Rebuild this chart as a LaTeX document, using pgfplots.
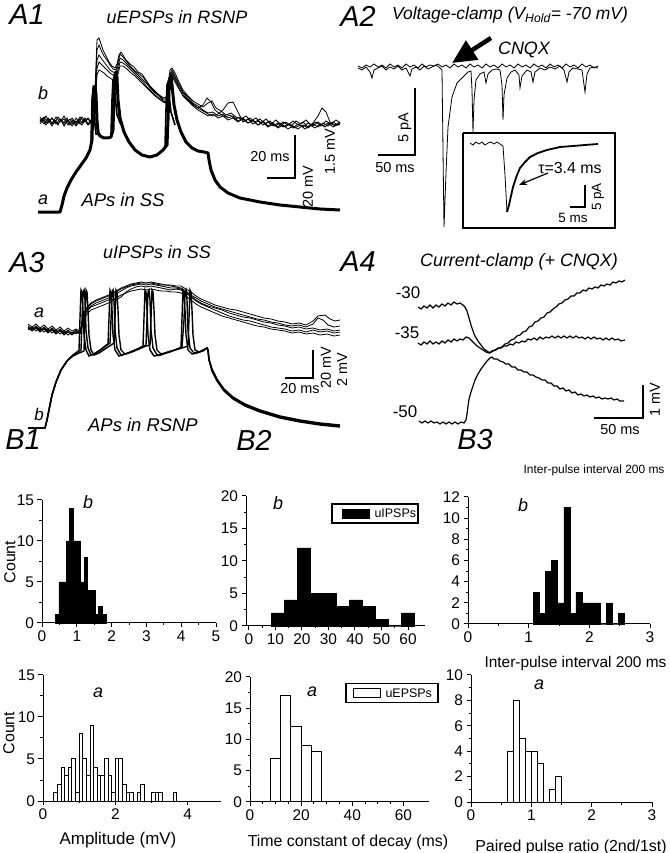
\documentclass[border=0pt]{standalone}
\usepackage{pgfplots}
\pgfplotsset{compat=1.18}
\usetikzlibrary{arrows.meta}
\usepackage{fontspec}
\setmainfont{Liberation Sans}
\newcommand\fs[1]{\fontsize{#1}{#1}\selectfont}
\pgfplotsset{
 hist/.style={
  scale only axis, anchor=south west,
  axis lines=left, axis line style={-, line width=1bp, black},
  tick align=outside, major tick length=4.5bp, minor tick length=2.5bp,
  tick style={black, line width=1bp},
  tick label style={font=\fs{15.5}},
  /pgf/number format/assume math mode=true,
  ymin=0, clip=false,
 },
 hb/.style={ybar interval, fill=black, draw=black, line width=0.6bp},
 hw/.style={ybar interval, fill=white, draw=black, line width=1bp},
 tr/.style={black, line width=0.8bp, no markers},
 thk/.style={black, line width=3bp, no markers, line join=round},
 spk/.style={black, line width=1.6bp, no markers},
}
\begin{document}
\begin{tikzpicture}
\useasboundingbox (0bp,0bp) rectangle (670bp,853bp);

% ---------------- B1 top
\begin{axis}[hist, at={(42bp,230bp)}, width=174bp, height=123bp,
  xmin=0, xmax=5, ymax=15, xtick={0,1,2,3,4,5}, ytick={0,5,10,15}, minor tick num=1]
\addplot[hb] coordinates {(0.38,1)(0.484,5)(0.588,5)(0.692,10)(0.796,14)(0.9,10)(1.004,10)(1.108,5)(1.212,8)(1.316,4)(1.42,4)(1.524,1)(1.628,2)(1.732,1)(1.836,0)};
\end{axis}
% ---------------- B1 bottom
\begin{axis}[hist, at={(43bp,52bp)}, width=178bp, height=126bp,
  xmin=0, xmax=4.92, ymax=15, xtick={0,2,4}, ytick={0,5,10,15}, minor tick num=1]
\addplot[hw] coordinates {(0.3,1)(0.4,2)(0.5,4)(0.6,3)(0.7,4)(0.8,5)(0.9,1)(1.0,8)(1.1,5)(1.2,3)(1.3,9)(1.4,4)(1.5,3)(1.6,3)(1.7,5)(1.8,3)(1.9,1)(2.0,5)(2.1,5)(2.2,2)(2.3,1)(2.4,1)(2.5,0)(2.6,1)(2.7,2)(2.8,0)(2.9,0)(3.0,1)(3.1,1)(3.2,1)(3.3,0)(3.4,0)(3.5,0)(3.6,1)(3.7,0)};
\end{axis}
% ---------------- B2 top
\begin{axis}[hist, at={(246bp,227bp)}, width=179bp, height=130bp,
  xmin=-1.1, xmax=66.4, ymax=20, xtick={0,10,...,60}, ytick={0,5,10,15,20}, minor x tick num=1, minor y tick num=1]
\addplot[hb] coordinates {(8.5,2)(13.4,4)(18.3,12)(23.2,5)(28.1,5)(33.0,3)(37.9,4)(42.8,3)(47.7,1)(52.6,0)(57.5,2)(62.4,0)};
\end{axis}
% ---------------- B2 bottom
\begin{axis}[hist, at={(250bp,51bp)}, width=179bp, height=125bp,
  xmin=0, xmax=70, ymax=20, xtick={0,20,40,60}, ytick={0,5,10,15,20}, minor x tick num=3, minor y tick num=1]
\addplot[hw] coordinates {(8,7)(12,17)(16,12)(20,9)(24,8)(28,0)};
\end{axis}
% ---------------- B3 top
\begin{axis}[hist, at={(468bp,229bp)}, width=182bp, height=127bp,
  xmin=0, xmax=3, ymax=12, xtick={0,1,2,3}, ytick={0,2,...,12}, minor tick num=1]
\addplot[hb] coordinates {(1.08,3)(1.18,1)(1.28,5)(1.38,6)(1.48,2)(1.58,11)(1.68,1)(1.78,3)(1.88,2)(1.98,2)(2.08,2)(2.18,0)(2.28,2)(2.38,0)(2.48,1)(2.58,0)};
\end{axis}
% ---------------- B3 bottom
\begin{axis}[hist, at={(471bp,51bp)}, width=181bp, height=127bp,
  xmin=0, xmax=3, ymax=10, xtick={0,1,2,3}, ytick={0,2,...,10}, minor tick num=1]
\addplot[hw] coordinates {(0.6,4)(0.7,8)(0.8,5)(0.9,4)(1.0,4)(1.1,3)(1.2,0)(1.3,1)(1.4,2)(1.5,0)};
\end{axis}

% ---------------- overlay (traces + text), pixel coordinates
\begin{axis}[at={(0bp,0bp)}, anchor=south west, scale only axis, width=670bp, height=853bp,
  xmin=0, xmax=670, ymin=0, ymax=853, y dir=reverse, hide axis, clip=false]
% ===== A1: b traces (uEPSPs in RSNP)
\addplot[tr] coordinates {(40,117)(43,121)(46,116)(49,122)(52,118)(55,123)(58,117)(61,121)(64,116)(67,122)(70,119)(73,124)(76,118)(79,122)(82,117)(85,121)(88,118)(91,122)(93,116)(95,90)(97,40)(99,38)(101,44)(103,50)(106,56)(109,62)(112,66)(115,68)(117,64)(119,55)(121,52)(123,55)(126,60)(130,64)(134,67)(138,72)(142,74)(146,80)(150,86)(154,90)(158,94)(162,97)(166,98)(168,85)(170,70)(172,68)(175,73)(179,82)(183,90)(188,96)(193,101)(198,104)(203,107)(208,103)(212,101)(216,108)(221,111)(226,115)(231,113)(236,117)(241,119)(246,116)(251,121)(256,118)(261,123)(266,119)(271,124)(276,120)(281,125)(286,122)(291,126)(296,121)(301,124)(306,120)(311,125)(316,122)(321,126)(326,121)(331,124)(336,120)(340,123)};
\addplot[tr] coordinates {(40,121)(43,118)(46,123)(49,119)(52,124)(55,120)(58,125)(61,119)(64,123)(67,118)(70,124)(73,120)(76,125)(79,119)(82,123)(85,118)(88,124)(91,120)(93,119)(95,95)(97,50)(99,45)(101,50)(104,56)(107,60)(110,65)(113,69)(116,70)(118,62)(120,54)(123,57)(127,62)(131,67)(135,71)(139,74)(143,77)(147,83)(151,88)(155,92)(159,95)(163,99)(166,99)(168,88)(170,74)(172,70)(175,76)(179,84)(183,92)(188,97)(193,103)(198,106)(203,110)(208,113)(213,112)(218,116)(223,114)(228,118)(233,116)(238,121)(243,118)(248,123)(253,120)(258,125)(263,121)(268,126)(273,123)(278,127)(283,122)(288,125)(293,121)(298,125)(303,122)(308,127)(313,123)(318,116)(322,108)(326,112)(330,122)(335,125)(340,122)};
\addplot[tr] coordinates {(40,124)(43,120)(46,125)(49,121)(52,126)(55,121)(58,124)(61,120)(64,126)(67,121)(70,125)(73,121)(76,126)(79,122)(82,125)(85,120)(88,125)(91,121)(93,122)(95,100)(97,60)(99,55)(101,58)(104,62)(107,66)(110,70)(113,72)(116,73)(118,66)(120,58)(123,60)(127,64)(131,68)(135,72)(139,76)(143,80)(147,84)(151,89)(155,93)(159,96)(163,100)(166,100)(168,90)(170,76)(172,72)(175,78)(179,86)(183,93)(188,99)(193,104)(198,108)(203,111)(208,114)(213,116)(218,114)(223,110)(228,103)(233,102)(238,112)(243,122)(248,119)(253,124)(258,121)(263,125)(268,122)(273,126)(278,123)(283,127)(288,124)(293,128)(298,124)(303,127)(308,123)(313,126)(318,122)(323,126)(328,123)(333,127)(338,124)(340,125)};
\addplot[tr] coordinates {(40,119)(44,124)(48,118)(52,123)(56,117)(60,122)(64,119)(68,125)(72,118)(76,123)(80,117)(84,122)(88,119)(92,124)(94,118)(95,105)(97,68)(99,62)(101,64)(104,67)(107,70)(110,73)(113,75)(116,76)(118,70)(120,62)(123,63)(127,66)(131,70)(135,74)(139,78)(143,82)(147,87)(151,91)(155,95)(159,98)(163,101)(166,102)(168,92)(170,78)(172,74)(175,80)(179,88)(183,95)(188,100)(193,105)(198,108)(203,105)(207,98)(211,102)(215,110)(220,114)(225,117)(230,115)(235,119)(240,117)(245,121)(250,118)(255,122)(260,119)(265,124)(270,121)(275,126)(280,123)(285,127)(290,124)(295,128)(300,125)(305,129)(310,125)(315,128)(320,124)(325,127)(330,123)(335,126)(340,124)};
\addplot[tr] coordinates {(40,122)(44,117)(48,123)(52,118)(56,124)(60,119)(64,125)(68,120)(72,126)(76,121)(80,124)(84,119)(88,125)(92,121)(94,121)(95,110)(97,75)(99,70)(101,71)(104,73)(107,76)(110,78)(113,80)(116,80)(118,74)(120,66)(123,66)(127,69)(131,73)(135,76)(139,80)(143,84)(147,88)(151,92)(155,96)(159,99)(163,102)(166,103)(168,94)(170,80)(172,76)(175,82)(179,89)(183,96)(188,101)(193,106)(198,110)(203,113)(208,116)(213,114)(218,118)(223,116)(228,120)(233,118)(238,122)(243,119)(248,123)(253,121)(258,125)(263,122)(268,127)(273,124)(278,128)(283,125)(288,129)(293,126)(298,129)(303,125)(308,128)(313,124)(318,127)(323,123)(328,126)(333,122)(338,125)(340,123)};
% ===== A1: a trace (APs in SS)
\addplot[thk] coordinates {(38,212)(60,212)(62,205)(64,196)(67,188)(71,180)(76,172)(81,165)(86,158)(90,150)(92,140)(93,100)(94,88)(95,86)(96,95)(97,120)(98,132)(100,136)(104,138)(108,138)(111,137)(113,130)(114,95)(115,75)(116,72)(117,78)(118,100)(120,118)(124,132)(129,142)(135,150)(142,155)(150,157)(157,155)(163,150)(167,145)(168,120)(169,90)(170,78)(171,76)(172,85)(174,105)(177,120)(181,132)(186,142)(192,148)(198,151)(204,152)(208,153)(209,160)(211,170)(215,180)(220,187)(228,193)(240,198)(260,202)(280,205)(300,207)(320,209)(340,210)};
\addplot[spk] coordinates {(91,145)(92,100)(93,90)(94,95)(95,125)(96,134)(100,135)};
\addplot[spk] coordinates {(111,134)(112,100)(113,80)(114,78)(115,95)(117,115)(121,125)};
\addplot[spk] coordinates {(165,147)(166,110)(167,85)(168,82)(169,95)(171,112)(175,125)};
% A1 scale bar
\addplot[black, line width=1.1bp] coordinates {(267,178)(295,178)(295,135)};

% ===== A2 traces
\addplot[tr] coordinates {(358,66)(362,68)(366,65)(370,67)(374,64)(378,67)(382,65)(386,68)(390,64)(394,67)(398,65)(402,68)(406,64)(410,67)(414,65)(418,68)(422,64)(426,67)(430,65)(434,66)(438,64)(442,67)(446,65)(450,68)(454,64)(458,67)(462,65)(466,68)(470,64)(474,67)(478,65)(482,68)(486,64)(490,67)(494,65)(498,68)(502,64)(506,67)(510,65)(514,68)(518,64)(522,67)(526,65)(530,68)(534,64)(538,67)(542,65)(546,68)(550,64)(554,67)(558,65)(562,68)(566,64)(570,67)(574,65)(578,68)(582,64)(586,67)(590,65)(594,68)(598,66)};
\addplot[tr] coordinates {(358,68)(362,70)(366,67)(370,72)(372,78)(374,70)(378,68)(382,66)(386,70)(390,67)(394,69)(398,66)(402,70)(406,68)(410,76)(412,69)(416,67)(420,70)(424,66)(428,69)(432,67)(436,65)(440,68)(442,70)(443,150)(444,227)(445,200)(446,173)(448,127)(452,97)(457,83)(463,77)(468,72)(471,71)(472,90)(473,132)(474,100)(476,80)(480,74)(484,72)(486,83)(488,74)(492,70)(496,69)(500,70)(502,85)(503,120)(504,95)(507,78)(511,72)(515,70)(519,75)(520,88)(522,76)(527,70)(531,72)(533,82)(535,72)(540,68)(545,70)(550,67)(555,69)(560,66)(564,70)(567,82)(569,72)(573,68)(578,69)(582,70)(585,92)(587,74)(590,68)(594,67)(598,68)};
% A2 scale bar
\addplot[black, line width=1.1bp] coordinates {(378,155)(415,155)(415,88)};
% inset box
\addplot[black, line width=1.1bp] coordinates {(463,133)(615,133)(615,228)(463,228)(463,133)};
% inset trace
\addplot[tr] coordinates {(470,143)(473,145)(476,142)(479,144)(482,142)(485,145)(488,143)(491,142)(494,144)(497,142)(500,144)(503,146)(505,175)(507,212)};
\addplot[black, line width=1.8bp, no markers] coordinates {(507,212)(509,205)(513,187)(517,175)(520,168)(525,162)(530,157)(538,153)(547,150)(560,147)(573,146)(585,145)(598,144)};
\addplot[black, line width=1.1bp] coordinates {(570,207)(585,207)(585,185)};

% ===== A3 a traces (uIPSPs in SS)
\addplot[tr] coordinates {(28,326)(32,329)(36,326)(40,330)(44,327)(48,331)(52,328)(56,332)(60,329)(64,333)(68,330)(72,334)(76,331)(80,333)(82,326)(84,316)(87,310)(91,306)(96,303)(101,301)(106,299)(111,297)(116,294)(121,291)(126,288)(131,286)(136,285)(141,284)(146,285)(151,284)(156,285)(161,286)(166,287)(171,288)(176,288)(181,289)(186,292)(191,296)(196,300)(201,303)(208,306)(215,308)(222,310)(229,313)(236,315)(243,317)(250,318)(257,320)(264,322)(271,323)(278,325)(285,326)(292,328)(299,327)(306,329)(313,328)(320,330)(327,329)(334,331)(340,330)};
\addplot[tr] coordinates {(28,330)(32,327)(36,331)(40,328)(44,332)(48,329)(52,333)(56,330)(60,334)(64,331)(68,335)(72,332)(76,334)(80,331)(82,322)(84,313)(87,308)(91,304)(96,301)(101,299)(106,297)(111,295)(116,292)(121,289)(126,287)(131,285)(136,284)(141,283)(146,283)(151,283)(156,284)(161,285)(166,285)(171,286)(176,287)(181,288)(186,291)(191,295)(196,298)(201,301)(208,304)(215,307)(222,309)(229,311)(236,313)(243,315)(250,317)(257,319)(264,320)(271,322)(278,323)(285,325)(292,326)(299,325)(306,327)(313,324)(318,318)(323,320)(328,325)(334,327)(340,326)};
\addplot[tr] coordinates {(28,328)(32,331)(36,328)(40,332)(44,329)(48,333)(52,330)(56,334)(60,331)(64,335)(68,332)(72,335)(76,332)(80,334)(82,328)(84,320)(87,314)(91,310)(96,308)(101,306)(106,304)(111,302)(116,298)(121,295)(126,293)(131,291)(136,290)(141,289)(146,290)(151,289)(156,290)(161,291)(166,291)(171,292)(176,292)(181,293)(186,296)(191,300)(196,304)(201,307)(208,310)(215,313)(222,316)(229,318)(236,320)(243,322)(250,324)(257,326)(264,327)(271,329)(278,330)(285,331)(292,333)(299,332)(306,334)(313,333)(320,335)(327,334)(334,336)(340,335)};
\addplot[tr] coordinates {(28,324)(32,327)(36,324)(40,328)(44,325)(48,329)(52,326)(56,330)(60,327)(64,331)(68,328)(72,331)(76,329)(80,331)(82,324)(84,313)(87,307)(91,303)(96,300)(101,298)(106,296)(111,294)(116,291)(121,288)(126,286)(131,284)(136,283)(141,282)(146,283)(151,282)(156,283)(161,284)(166,285)(171,285)(176,286)(181,286)(186,289)(191,292)(196,296)(201,299)(208,302)(215,305)(222,307)(229,309)(236,310)(243,312)(250,314)(257,316)(264,318)(271,319)(278,321)(285,322)(292,324)(299,323)(306,325)(313,321)(318,316)(325,315)(330,319)(335,321)(340,320)};
\addplot[tr] coordinates {(28,327)(32,330)(36,327)(40,331)(44,328)(48,332)(52,329)(56,333)(60,330)(64,334)(68,331)(72,333)(76,330)(80,333)(82,325)(84,317)(87,311)(91,307)(96,305)(101,303)(106,301)(111,299)(116,300)(121,297)(126,292)(131,289)(136,287)(141,286)(146,287)(151,286)(156,287)(161,288)(166,289)(171,290)(176,289)(181,290)(186,293)(191,297)(196,301)(201,304)(208,307)(215,310)(222,313)(229,316)(236,318)(243,320)(250,321)(257,323)(264,325)(271,327)(278,328)(285,329)(292,331)(299,330)(306,332)(313,330)(320,332)(327,331)(334,333)(340,332)};
% ===== A3 b traces (APs in RSNP)
\addplot[black, line width=1.4bp, no markers] coordinates {(28,428)(45,428)(47,420)(49,410)(52,395)(56,382)(61,370)(67,361)(73,355)(78,352)(81,350)(82,320)(83,292)(84,290)(85,300)(86,330)(88,348)(91,355)(96,353)(102,349)(107,345)(110,343)(111,320)(112,292)(113,290)(114,300)(115,330)(117,348)(121,355)(128,353)(135,350)(142,347)(146,345)(147,320)(148,292)(149,290)(150,300)(151,330)(153,348)(157,355)(163,354)(170,352)(177,349)(182,347)(184,320)(185,292)(186,290)(187,300)(188,330)(190,348)(194,353)(199,352)(203,350)(207,348)(208,350)(209,360)(212,370)(217,380)(224,390)(233,398)(245,405)(260,411)(280,417)(300,421)(320,424)(340,426)};
\addplot[black, line width=1.4bp, no markers] coordinates {(28,428)(45,428)(47,420)(49,410)(52,395)(56,382)(61,370)(67,361)(73,355)(77,352)(79,350)(80,318)(81,290)(82,292)(83,310)(84,335)(86,350)(89,356)(94,354)(100,350)(105,346)(108,344)(109,318)(110,290)(111,292)(112,310)(113,335)(115,350)(119,356)(126,354)(133,351)(140,348)(143,346)(144,318)(145,290)(146,292)(147,310)(148,335)(150,350)(154,356)(161,355)(168,352)(175,350)(181,348)(182,318)(183,290)(184,292)(185,310)(186,335)(188,350)(192,354)(197,353)(202,351)(207,348)(208,350)(209,360)(212,371)(217,381)(224,391)(233,399)(245,406)(260,412)(280,418)(300,422)(320,425)(340,427)};
\addplot[black, line width=1.4bp, no markers] coordinates {(28,428)(45,428)(47,420)(49,410)(52,395)(56,382)(61,370)(67,361)(73,356)(79,353)(84,351)(85,318)(86,290)(87,292)(88,310)(89,335)(91,350)(94,355)(99,353)(105,349)(111,345)(114,343)(115,318)(116,290)(117,292)(118,310)(119,335)(121,350)(125,354)(132,352)(139,349)(146,346)(150,345)(151,318)(152,290)(153,292)(154,310)(155,335)(157,350)(161,354)(168,352)(175,350)(182,348)(188,346)(189,318)(190,290)(191,292)(192,310)(193,335)(195,350)(199,352)(203,351)(207,348)(208,350)(209,359)(212,369)(217,379)(224,389)(233,397)(245,404)(260,410)(280,416)(300,420)(320,423)(340,425)};
% A3 scale bar
\addplot[black, line width=1.1bp] coordinates {(285,378)(313,378)(313,350)};

% ===== A4 traces
\addplot[tr, line width=1.2bp] coordinates {(418,307)(421,309)(424,306)(427,308)(430,305)(433,308)(436,305)(439,307)(442,304)(445,306)(448,303)(451,305)(454,302)(457,304)(460,303)(463,305)(465,307)(467,311)(469,318)(471,325)(473,331)(475,336)(478,341)(481,345)(484,349)(487,351)(490,353)(493,351)(496,350)(499,348)(502,347)(505,344)(508,343)(511,340)(514,339)(517,336)(520,335)(523,332)(526,331)(529,327)(532,326)(535,322)(538,321)(541,318)(544,317)(547,313)(550,312)(553,309)(556,307)(559,304)(562,303)(565,300)(568,299)(571,296)(574,296)(577,293)(580,293)(583,290)(586,291)(589,288)(592,289)(595,287)(598,288)(601,285)(604,286)(607,284)(610,285)(613,282)(616,283)(619,281)(622,282)(625,280)};
\addplot[tr, line width=1.2bp] coordinates {(418,343)(421,345)(424,342)(427,344)(430,341)(433,344)(436,342)(439,344)(442,341)(445,343)(448,340)(451,342)(454,339)(457,341)(460,339)(463,340)(466,337)(469,338)(471,340)(474,343)(477,346)(480,348)(483,350)(486,352)(489,353)(492,351)(495,350)(498,348)(501,348)(504,346)(507,346)(510,344)(513,345)(516,342)(519,343)(522,341)(525,342)(528,339)(531,340)(534,338)(537,340)(540,337)(543,339)(546,337)(549,338)(552,336)(555,338)(558,336)(561,338)(564,336)(567,338)(570,336)(573,338)(576,336)(579,338)(582,337)(585,339)(588,337)(591,339)(594,337)(597,339)(600,338)(603,340)(606,338)(609,340)(612,338)(615,340)(618,339)(621,341)(625,340)};
\addplot[tr, line width=1.2bp] coordinates {(419,421)(422,423)(425,421)(428,423)(431,421)(434,423)(437,422)(440,424)(443,422)(446,424)(449,422)(452,424)(455,422)(458,424)(461,422)(464,423)(466,420)(467,414)(468,406)(469,399)(471,392)(473,386)(475,380)(478,374)(481,369)(484,365)(487,361)(490,358)(492,357)(494,359)(497,359)(500,361)(503,362)(506,364)(509,364)(512,367)(515,367)(518,370)(521,370)(524,372)(527,372)(530,375)(533,375)(536,377)(539,378)(542,380)(545,380)(548,383)(551,383)(554,386)(557,386)(560,389)(563,388)(566,391)(569,390)(572,393)(575,392)(578,395)(581,394)(584,396)(587,395)(590,397)(593,396)(596,398)(599,397)(602,399)(605,398)(608,399)(611,398)(614,400)(617,399)(620,401)(624,401)};
% A4 scale bar
\addplot[black, line width=1.1bp] coordinates {(594,418)(643,418)(643,385)};

% ===== arrows
\draw[black, line width=4.5bp, -{Triangle[length=24bp, width=22bp]}] (axis cs:491,38) -- (axis cs:452,63);
\draw[black, line width=1.2bp, -{Stealth[length=8bp, width=6bp]}] (axis cs:548,173) -- (axis cs:519,185);

% ===== legends (B2)
\draw[black, line width=1.4bp] (axis cs:332,504) rectangle (axis cs:418,523);
\fill[black] (axis cs:342,508.5) rectangle (axis cs:370,518.5);
\node[font=\fs{12.5}, anchor=west] at (axis cs:371,513.5) {uIPSPs};
\draw[black, line width=1.4bp] (axis cs:346,683.5) rectangle (axis cs:438,702.5);
\draw[black, line width=1bp] (axis cs:353,688.5) rectangle (axis cs:380,697.5);
\node[font=\fs{12.5}, anchor=west] at (axis cs:382,693) {uEPSPs};

% ===== text
\node[font=\fs{29}\itshape] at (axis cs:27,15) {A1};
\node[font=\fs{29}\itshape] at (axis cs:358,16) {A2};
\node[font=\fs{29}\itshape] at (axis cs:27,263) {A3};
\node[font=\fs{29}\itshape] at (axis cs:358,262) {A4};
\node[font=\fs{29}\itshape] at (axis cs:23,440) {B1};
\node[font=\fs{29}\itshape] at (axis cs:254,440) {B2};
\node[font=\fs{29}\itshape] at (axis cs:475,440) {B3};

\node[font=\fs{18}\itshape] at (axis cs:177,17) {uEPSPs in RSNP};
\node[font=\fs{17.5}\itshape] at (axis cs:510,15) {Voltage-clamp (V\textsubscript{Hold}= -70 mV)};
\node[font=\fs{18}\itshape] at (axis cs:157,252) {uIPSPs in SS};
\node[font=\fs{18}\itshape] at (axis cs:519,262) {Current-clamp (+ CNQX)};

\node[font=\fs{18}\itshape] at (axis cs:43,93) {b};
\node[font=\fs{18}\itshape] at (axis cs:43,200) {a};
\node[font=\fs{18.5}\itshape] at (axis cs:123,200) {APs in SS};
\node[font=\fs{18}\itshape] at (axis cs:39,313) {a};
\node[font=\fs{17}\itshape] at (axis cs:39,414) {b};
\node[font=\fs{18.5}\itshape] at (axis cs:143,425) {APs in RSNP};
\node[font=\fs{18}\itshape] at (axis cs:524,50) {CNQX};

\node[font=\fs{14.5}] at (axis cs:270,157) {20 ms};
\node[font=\fs{14.5}, rotate=90] at (axis cs:308,187) {20 mV};
\node[font=\fs{14.5}, rotate=90] at (axis cs:330,152) {1.5 mV};
\node[font=\fs{14.5}, rotate=90] at (axis cs:405,128) {5 pA};
\node[font=\fs{14.5}] at (axis cs:395,168) {50 ms};
\node[font=\fs{16}] at (axis cs:570,168) {τ=3.4 ms};
\node[font=\fs{13.5}, rotate=90] at (axis cs:598,197) {5 pA};
\node[font=\fs{13.5}] at (axis cs:573,218) {5 ms};
\node[font=\fs{14.5}] at (axis cs:300,389) {20 ms};
\node[font=\fs{14.5}, rotate=90] at (axis cs:326,368) {20 mV};
\node[font=\fs{14.5}, rotate=90] at (axis cs:342,370) {2 mV};
\node[font=\fs{14.5}, rotate=90] at (axis cs:655,400) {1 mV};
\node[font=\fs{14.5}] at (axis cs:620,430) {50 ms};
\node[font=\fs{17}] at (axis cs:408,293) {-30};
\node[font=\fs{17}] at (axis cs:407,333) {-35};
\node[font=\fs{17}] at (axis cs:405,412) {-50};

\node[font=\fs{16}, rotate=90] at (axis cs:10,562) {Count};
\node[font=\fs{16}, rotate=90] at (axis cs:9,733) {Count};
\node[font=\fs{17}] at (axis cs:118,840) {Amplitude (mV)};
\node[font=\fs{16}] at (axis cs:348,842) {Time constant of decay (ms)};
\node[font=\fs{16}] at (axis cs:571,847) {Paired pulse ratio (2nd/1st)};
\node[font=\fs{12}, anchor=east] at (axis cs:668,470) {Inter-pulse interval 200 ms};
\node[font=\fs{15.5}, anchor=east] at (axis cs:670,663) {Inter-pulse interval 200 ms};

\node[font=\fs{18}\itshape] at (axis cs:88,502) {b};
\node[font=\fs{18}\itshape] at (axis cs:98,693) {a};
\node[font=\fs{18}\itshape] at (axis cs:278,503) {b};
\node[font=\fs{18}\itshape] at (axis cs:312,692) {a};
\node[font=\fs{18}\itshape] at (axis cs:523,505) {b};
\node[font=\fs{18}\itshape] at (axis cs:539,685) {a};
\end{axis}
\end{tikzpicture}
\end{document}
